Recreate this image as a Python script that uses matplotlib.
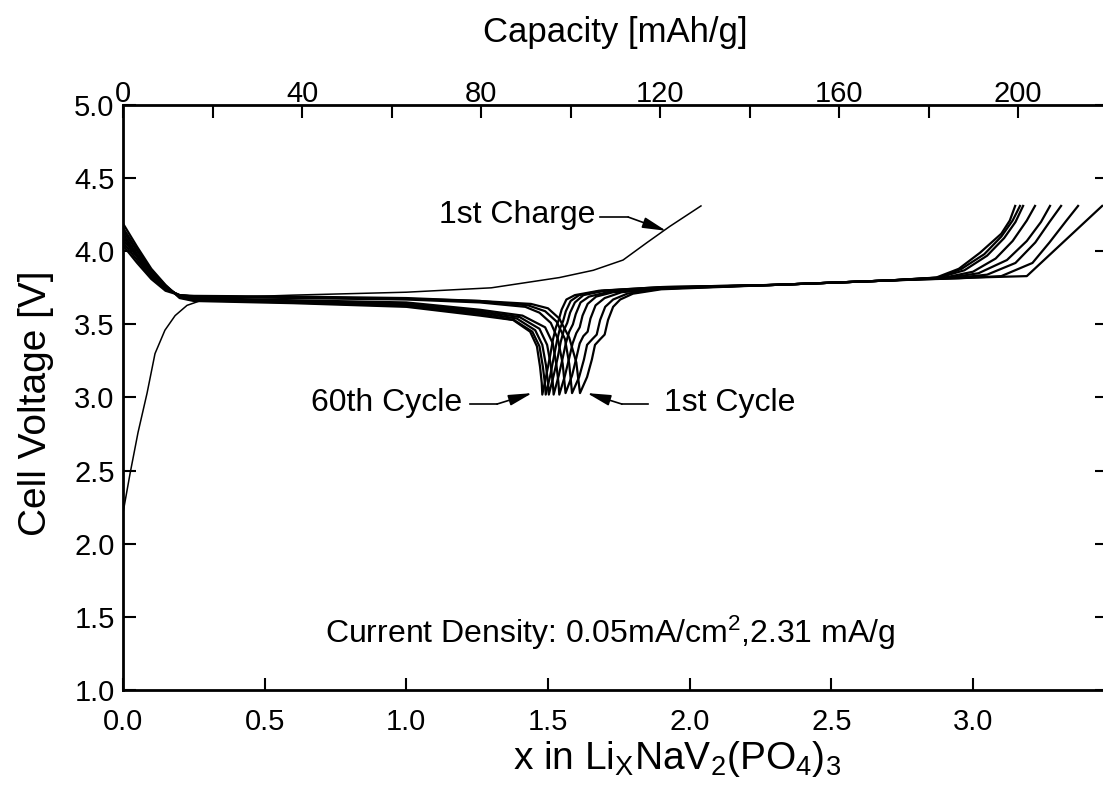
import matplotlib
matplotlib.use('Agg')
import matplotlib.pyplot as plt
from matplotlib.ticker import MultipleLocator

plt.rcParams['font.family'] = ['Liberation Sans', 'DejaVu Sans']
plt.rcParams['mathtext.fontset'] = 'custom'
plt.rcParams['mathtext.rm'] = 'Liberation Sans'
plt.rcParams['mathtext.it'] = 'Liberation Sans'
plt.rcParams['mathtext.bf'] = 'Liberation Sans'

# mAh/g per unit of x
cap_per_x = 63.3

# first charge
first_charge_x = [0, 0.025, 0.053, 0.085, 0.113, 0.148, 0.184, 0.226, 0.30, 0.6, 1.0, 1.3, 1.54, 1.66, 1.765, 1.85, 1.93, 2.04]
first_charge_v = [2.21, 2.48, 2.76, 3.03, 3.30, 3.46, 3.56, 3.63, 3.68, 3.70, 3.72, 3.75, 3.82, 3.87, 3.94, 4.06, 4.17, 4.31]

# cycles, 1st (right tip) ... 60th (left tip)
cycle_x = [
    [0, 0.05, 0.10, 0.15, 0.20, 0.25, 0.6, 1.0, 1.26, 1.44, 1.50, 1.54, 1.575, 1.60, 1.613,
     1.638, 1.655, 1.666, 1.685, 1.70, 1.712, 1.73, 1.755, 1.80, 1.90, 2.30, 2.70, 3.00, 3.19, 3.456],
    [0, 0.05, 0.10, 0.15, 0.20, 0.25, 0.6, 1.0, 1.26, 1.43, 1.49, 1.53, 1.56, 1.575, 1.585,
     1.61, 1.627, 1.638, 1.657, 1.672, 1.684, 1.702, 1.73, 1.78, 1.90, 2.30, 2.70, 2.95, 3.10, 3.21, 3.27, 3.33, 3.371],
    [0, 0.05, 0.10, 0.15, 0.20, 0.25, 0.6, 1.0, 1.26, 1.42, 1.47, 1.51, 1.535, 1.552, 1.562,
     1.585, 1.60, 1.612, 1.625, 1.64, 1.65, 1.668, 1.70, 1.76, 1.90, 2.30, 2.70, 2.95, 3.05, 3.15, 3.22, 3.27, 3.311],
    [0, 0.05, 0.10, 0.15, 0.20, 0.25, 0.6, 1.0, 1.26, 1.41, 1.49, 1.517, 1.53, 1.537, 1.540,
     1.56, 1.575, 1.587, 1.60, 1.612, 1.622, 1.64, 1.67, 1.73, 1.90, 2.30, 2.70, 2.92, 3.02, 3.12, 3.19, 3.24, 3.272],
    [0, 0.05, 0.10, 0.15, 0.20, 0.25, 0.6, 1.0, 1.26, 1.40, 1.47, 1.497, 1.51, 1.517, 1.520,
     1.538, 1.552, 1.563, 1.575, 1.588, 1.598, 1.615, 1.645, 1.71, 1.90, 2.30, 2.70, 2.90, 3.00, 3.08, 3.14, 3.19, 3.219],
    [0, 0.05, 0.10, 0.15, 0.20, 0.25, 0.6, 1.0, 1.26, 1.39, 1.455, 1.48, 1.493, 1.500, 1.503,
     1.52, 1.534, 1.545, 1.556, 1.568, 1.578, 1.595, 1.625, 1.70, 1.90, 2.30, 2.70, 2.88, 2.97, 3.05, 3.11, 3.15, 3.177],
    [0, 0.05, 0.10, 0.15, 0.20, 0.25, 0.6, 1.0, 1.26, 1.38, 1.445, 1.47, 1.482, 1.489, 1.492,
     1.508, 1.521, 1.532, 1.542, 1.553, 1.563, 1.58, 1.61, 1.69, 1.90, 2.30, 2.70, 2.88, 2.96, 3.04, 3.10, 3.14, 3.166],
    [0, 0.05, 0.10, 0.15, 0.20, 0.25, 0.6, 1.0, 1.26, 1.377, 1.437, 1.461, 1.472, 1.478, 1.480,
     1.495, 1.508, 1.518, 1.528, 1.538, 1.548, 1.565, 1.595, 1.68, 1.90, 2.30, 2.70, 2.87, 2.95, 3.025, 3.10, 3.13, 3.149],
]
cycle_v = [
    [4.04, 3.92, 3.81, 3.73, 3.70, 3.695, 3.69, 3.68, 3.66, 3.64, 3.61, 3.54, 3.41, 3.24, 3.03,
     3.14, 3.26, 3.36, 3.40, 3.43, 3.53, 3.62, 3.67, 3.71, 3.74, 3.77, 3.80, 3.82, 3.83, 4.31],
    [4.06, 3.94, 3.82, 3.74, 3.70, 3.69, 3.685, 3.675, 3.66, 3.63, 3.59, 3.52, 3.40, 3.23, 3.03,
     3.14, 3.26, 3.36, 3.40, 3.43, 3.53, 3.62, 3.67, 3.71, 3.745, 3.77, 3.80, 3.815, 3.83, 3.92, 4.06, 4.21, 4.31],
    [4.08, 3.96, 3.83, 3.745, 3.70, 3.69, 3.68, 3.67, 3.65, 3.62, 3.58, 3.51, 3.40, 3.23, 3.03,
     3.15, 3.27, 3.37, 3.42, 3.45, 3.54, 3.63, 3.68, 3.72, 3.745, 3.77, 3.80, 3.82, 3.84, 3.92, 4.06, 4.20, 4.31],
    [4.10, 3.97, 3.84, 3.75, 3.695, 3.68, 3.665, 3.65, 3.60, 3.56, 3.48, 3.37, 3.22, 3.10, 3.02,
     3.15, 3.27, 3.37, 3.44, 3.48, 3.56, 3.64, 3.69, 3.72, 3.75, 3.77, 3.80, 3.82, 3.85, 3.94, 4.07, 4.20, 4.31],
    [4.12, 3.98, 3.85, 3.755, 3.69, 3.675, 3.66, 3.64, 3.59, 3.55, 3.47, 3.36, 3.22, 3.10, 3.02,
     3.15, 3.27, 3.37, 3.45, 3.50, 3.57, 3.65, 3.69, 3.72, 3.75, 3.77, 3.80, 3.82, 3.86, 3.95, 4.07, 4.21, 4.31],
    [4.14, 4.00, 3.86, 3.76, 3.69, 3.67, 3.655, 3.63, 3.58, 3.54, 3.46, 3.36, 3.22, 3.10, 3.02,
     3.15, 3.27, 3.38, 3.46, 3.51, 3.58, 3.65, 3.70, 3.73, 3.75, 3.77, 3.80, 3.82, 3.87, 3.97, 4.09, 4.20, 4.31],
    [4.16, 4.01, 3.87, 3.765, 3.685, 3.665, 3.65, 3.625, 3.57, 3.53, 3.45, 3.35, 3.21, 3.10, 3.02,
     3.15, 3.28, 3.39, 3.47, 3.52, 3.59, 3.66, 3.70, 3.73, 3.755, 3.77, 3.80, 3.82, 3.88, 3.98, 4.10, 4.21, 4.31],
    [4.19, 4.03, 3.88, 3.77, 3.68, 3.66, 3.645, 3.62, 3.56, 3.53, 3.45, 3.35, 3.21, 3.10, 3.02,
     3.16, 3.29, 3.40, 3.48, 3.53, 3.60, 3.67, 3.70, 3.73, 3.755, 3.77, 3.80, 3.82, 3.88, 3.99, 4.12, 4.21, 4.31],
]

tick_fs = 21
note_fs = 23

fig = plt.figure(figsize=(11.03, 7.95), dpi=100)
ax = fig.add_axes([0.1115, 0.1321, 0.8921, 0.7358])

ax.plot(first_charge_x, first_charge_v, 'k', lw=1.1, solid_joinstyle='round')
for xs, vs in zip(cycle_x, cycle_v):
    ax.plot(xs, vs, 'k', lw=1.6, solid_joinstyle='round')

ax.set_xlim(0, 3.473)
ax.set_ylim(1.0, 5.0)
ax.xaxis.set_major_locator(MultipleLocator(0.5))
ax.yaxis.set_major_locator(MultipleLocator(0.5))
ax.xaxis.set_major_formatter('{x:.1f}')
ax.yaxis.set_major_formatter('{x:.1f}')
ax.tick_params(direction='in', length=9, width=1.5, labelsize=tick_fs, top=False, right=True)
ax.tick_params(axis='x', pad=13)
ax.tick_params(axis='y', pad=6)
for s in ax.spines.values():
    s.set_linewidth(2)

ax.set_xlabel('x in Li$_\\mathrm{X}$NaV$_2$(PO$_4$)$_3$', fontsize=28)
ax.xaxis.set_label_coords(0.563, -0.083)
ax.set_ylabel('Cell Voltage [V]', fontsize=28)
ax.yaxis.set_label_coords(-0.07, 0.49)

sec = ax.secondary_xaxis('top', functions=(lambda x: x * cap_per_x, lambda c: c / cap_per_x))
sec.set_xticks([0, 40, 80, 120, 160, 200])
sec.set_xticks([20, 60, 100, 140, 180], minor=True)
sec.tick_params(which='both', direction='in', length=9, width=1.5, labelsize=tick_fs, pad=-2)
sec.set_xlabel('Capacity [mAh/g]', fontsize=25, labelpad=27)

# annotations
arrow = dict(arrowstyle='-|>,head_length=0.65,head_width=0.15', color='k', lw=1.2,
             mutation_scale=22, shrinkA=0, shrinkB=0)

ax.text(1.391, 4.25, '1st Charge', fontsize=note_fs, ha='center', va='center')
ax.plot([1.684, 1.783], [4.234, 4.234], 'k', lw=1.2)
ax.annotate('', xy=(1.917, 4.14), xytext=(1.783, 4.234), arrowprops=arrow)

ax.text(0.932, 2.96, '60th Cycle', fontsize=note_fs, ha='center', va='center')
ax.plot([1.225, 1.32], [2.955, 2.955], 'k', lw=1.2)
ax.annotate('', xy=(1.444, 3.03), xytext=(1.32, 2.955), arrowprops=arrow)

ax.text(2.143, 2.96, '1st Cycle', fontsize=note_fs, ha='center', va='center')
ax.plot([1.853, 1.761], [2.955, 2.955], 'k', lw=1.2)
ax.annotate('', xy=(1.638, 3.03), xytext=(1.761, 2.955), arrowprops=arrow)

ax.text(1.719, 1.39, 'Current Density: 0.05mA/cm$^2$,2.31 mA/g', fontsize=note_fs,
        ha='center', va='center')

fig.savefig('out.png', dpi=100)
